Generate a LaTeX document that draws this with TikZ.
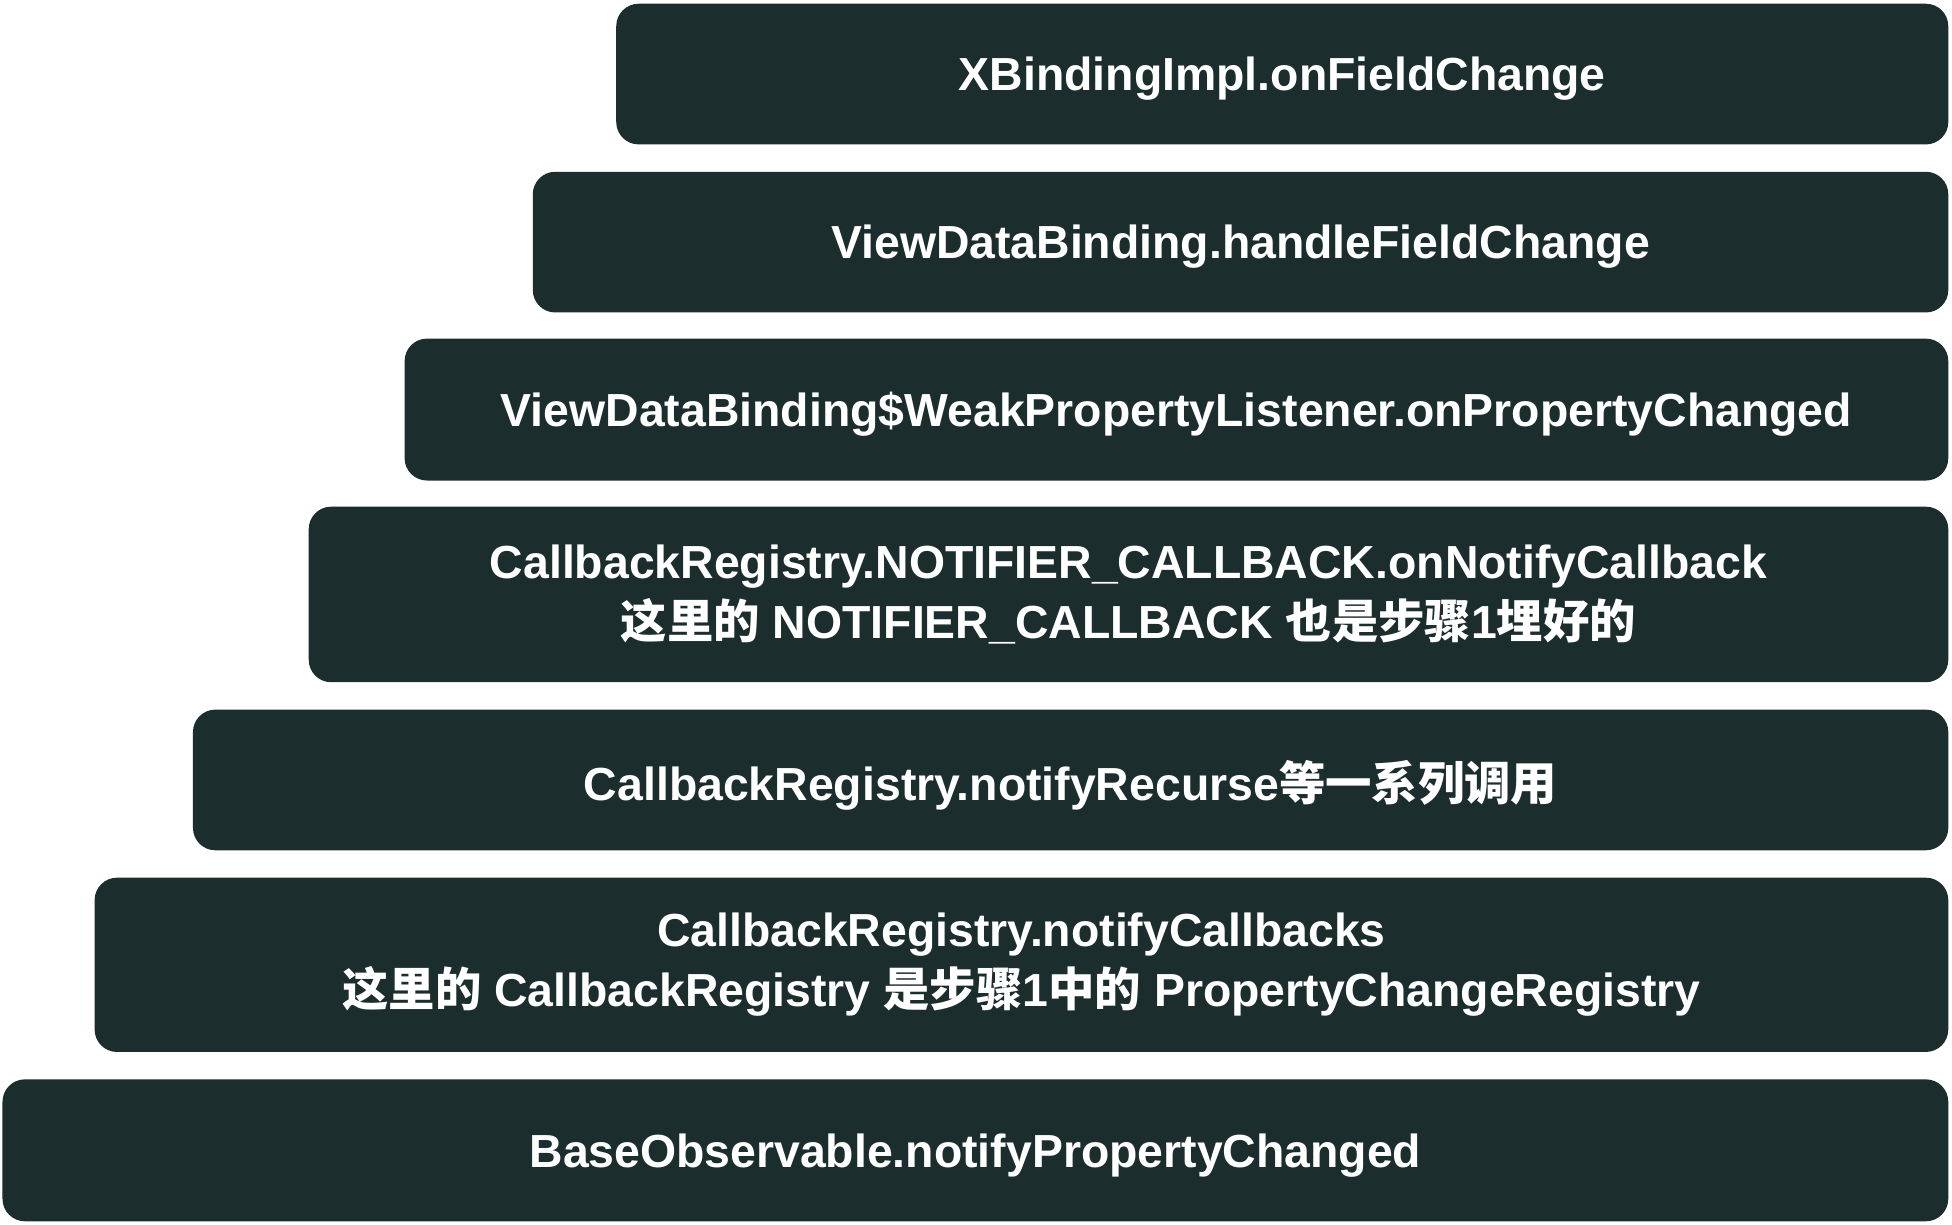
\documentclass[tikz,border=0pt]{standalone}
\usepackage{fontspec}
\setmainfont{Liberation Sans}
\newfontfamily\cjk{Noto Sans CJK SC}
\definecolor{boxgreen}{HTML}{1C2D2E}
\begin{document}
\begin{tikzpicture}[font=\bfseries\fontsize{10.6}{13.7}\selectfont,
  blk/.style={fill=boxgreen,text=white,rounded corners=0.18cm,align=center,inner sep=0pt},
  oneline/.style={blk,text depth=0pt}]
\useasboundingbox (0,0) rectangle (15.68,-9.84);
% right edges all at x = 15.65
\node[oneline,minimum width=10.70cm,minimum height=1.13cm] (impl) at (10.300,-0.595) {XBindingImpl.onFieldChange};
\node[oneline,minimum width=11.37cm,minimum height=1.13cm] (handle) at (9.965,-1.945) {ViewDataBinding.handleFieldChange};
\node[oneline,minimum width=12.40cm,minimum height=1.14cm] (weak) at (9.450,-3.290) {ViewDataBinding\$WeakPropertyListener.onPropertyChanged};
\node[blk,minimum width=13.17cm,minimum height=1.41cm] (notifier) at (9.065,-4.775) {CallbackRegistry.NOTIFIER\_CALLBACK.onNotifyCallback\\{\cjk 这里的} NOTIFIER\_CALLBACK {\cjk 也是步骤}1{\cjk 埋好的}};
\node[oneline,minimum width=14.10cm,minimum height=1.13cm] (recurse) at (8.600,-6.265) {CallbackRegistry.notifyRecurse{\cjk 等一系列调用}};
\node[blk,minimum width=14.89cm,minimum height=1.40cm] (callbacks) at (8.205,-7.750) {CallbackRegistry.notifyCallbacks\\{\cjk 这里的} CallbackRegistry {\cjk 是步骤}1{\cjk 中的} PropertyChangeRegistry};
\node[oneline,minimum width=15.63cm,minimum height=1.14cm] (base) at (7.835,-9.240) {BaseObservable.notifyPropertyChanged};
\end{tikzpicture}
\end{document}
